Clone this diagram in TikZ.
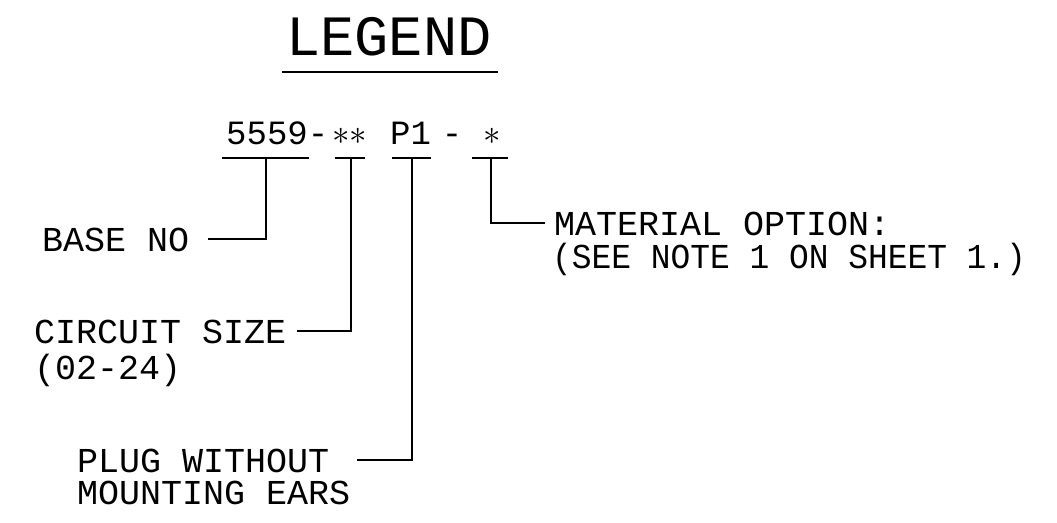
\documentclass[tikz,border=0pt]{standalone}
\usepackage{fontspec}
\setmainfont{Liberation Mono}
\newfontfamily\narrowmono[FakeStretch=0.94]{Liberation Mono}
\begin{document}
\begin{tikzpicture}[x=1pt,y=-1pt,
  lbl/.style={inner sep=0pt, font=\fontsize{35}{35}\selectfont, anchor=base west},
  pn/.style={inner sep=0pt, font=\fontsize{34}{34}\selectfont},
  star/.style={inner sep=0pt, anchor=base, font=\fontsize{34}{34}\selectfont},
  ln/.style={line width=2pt}]
\useasboundingbox (0,0) rectangle (1057,522);
% title
\node[inner sep=0pt, font=\fontsize{57}{57}\selectfont, anchor=base] (legend) at (389,55) {LEGEND};
\draw[ln] (282,72) -- (498,72);
% part number
\node[pn, anchor=base west] (pnA) at (226,144) {5559-};
\node[star] (st1) at (341,144) {\scalebox{1.4}{$\ast$}};
\node[star] (st2) at (358,144) {\scalebox{1.4}{$\ast$}};
\node[pn, anchor=base west] (pnB) at (390,144) {P1};
\node[pn, anchor=base] (pnC) at (452,144) {-};
\node[star] (st3) at (492,144) {\scalebox{1.4}{$\ast$}};
% underlines
\coordinate (v1) at (266,158);
\coordinate (v2) at (351,158);
\coordinate (v3) at (412,158);
\coordinate (v4) at (491,158);
\draw[ln] (222,158) -- (309,158);
\draw[ln] (335,158) -- (365,158);
\draw[ln] (392,158) -- (431,158);
\draw[ln] (472,158) -- (508,158);
% labels
\node[lbl] (base) at (42,251) {BASE NO};
\node[lbl] (circ) at (34,343) {CIRCUIT SIZE};
\node[lbl] (circb) at (34,379) {(02-24)};
\node[lbl] (plug) at (77,472) {PLUG WITHOUT};
\node[lbl] (plugb) at (77,504) {MOUNTING EARS};
\node[lbl] (mat) at (554,235) {MATERIAL OPTION:};
\node[lbl, font=\narrowmono\fontsize{35}{35}\selectfont] (matb) at (552,268) {(SEE NOTE 1 ON SHEET 1.)};
% connectors
\draw[ln] ([xshift=19pt]base.east) -| (v1);
\draw[ln] ([xshift=11pt]circ.east) -| (v2);
\draw[ln] ([xshift=28pt]plug.east) -| (v3);
\draw[ln] (v4) |- ([xshift=-9pt]mat.west);
\end{tikzpicture}
\end{document}
